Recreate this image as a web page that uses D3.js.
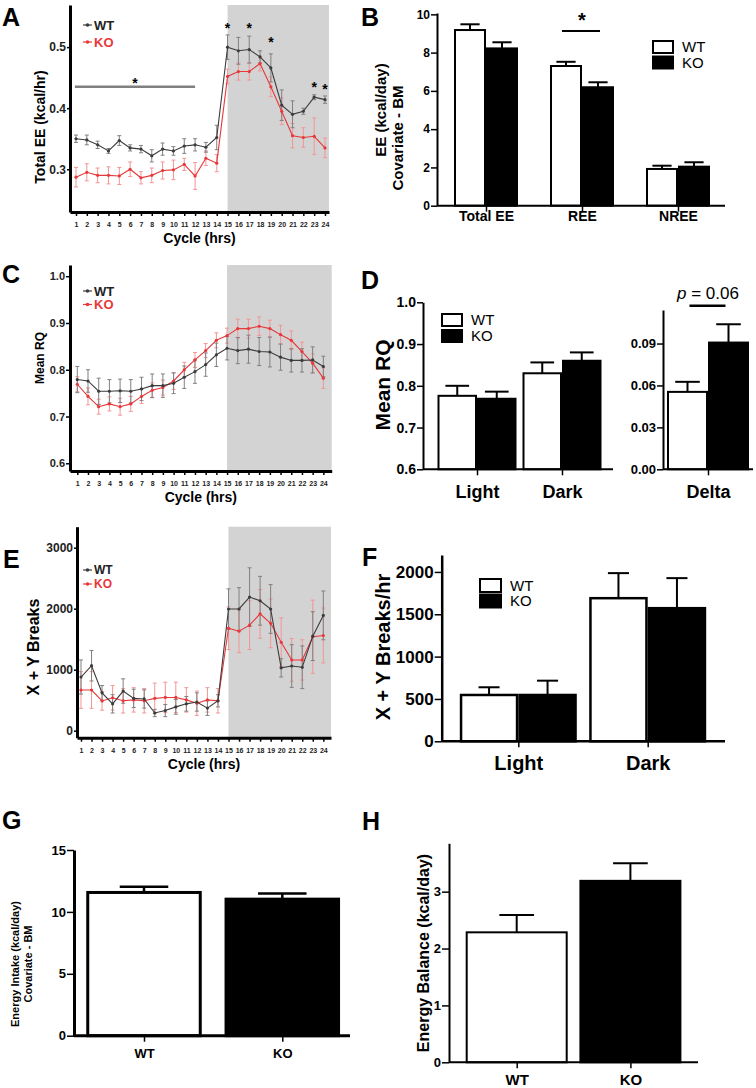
<!DOCTYPE html>
<html><head><meta charset="utf-8">
<script src="https://cdn.jsdelivr.net/npm/d3@7"></script>
<style>
body{margin:0;background:#fff}
svg{display:block}
text{font-family:"Liberation Sans",Arial,Helvetica,sans-serif}
</style>
</head><body>
<svg id="c" width="756" height="1088"></svg>
<script>
// ---------------- DATA ----------------
const hours = [1,2,3,4,5,6,7,8,9,10,11,12,13,14,15,16,17,18,19,20,21,22,23,24];
const darkOnset = 15;
const seriesNames = ["WT","KO"];

// A: Total EE (kcal/hr)
const eeWT    = [0.350,0.348,0.340,0.330,0.347,0.335,0.333,0.322,0.333,0.330,0.338,0.340,0.336,0.352,0.500,0.494,0.496,0.484,0.466,0.405,0.390,0.395,0.418,0.414];
const eeWTsem = [0.006,0.008,0.006,0.004,0.008,0.005,0.006,0.010,0.010,0.007,0.012,0.010,0.008,0.020,0.020,0.022,0.022,0.010,0.023,0.025,0.022,0.005,0.004,0.006];
const eeKO    = [0.287,0.295,0.290,0.290,0.289,0.300,0.286,0.290,0.298,0.299,0.308,0.289,0.318,0.310,0.452,0.460,0.460,0.473,0.435,0.395,0.355,0.352,0.354,0.335];
const eeKOsem = [0.016,0.014,0.012,0.014,0.014,0.012,0.010,0.012,0.014,0.016,0.010,0.022,0.012,0.014,0.012,0.014,0.014,0.012,0.016,0.022,0.020,0.016,0.030,0.016];
const eeStarHours  = [15,17,19,23,24];
const eeStarLevels = [0.536,0.536,0.513,0.440,0.437];
const eeLightSigHours = [0.9,12];
const eeLightSigLevel = 0.435;
const eeLightStarLevel = 0.4465;

// B: EE (kcal/day) covariate BM
const eeCats = ["Total EE","REE","NREE"];
const eeBarWT = [9.18,7.30,1.92];
const eeBarWTsem = [0.30,0.22,0.17];
const eeBarKO = [8.22,6.19,2.04];
const eeBarKOsem = [0.32,0.26,0.23];
const eeBarSigCat = "REE";
const eeBarSigLevel = 9.13;
const eeBarStarLevel = 9.97;

// C: Mean RQ
const rqWT    = [0.779,0.776,0.754,0.754,0.755,0.754,0.759,0.766,0.766,0.771,0.784,0.796,0.811,0.832,0.846,0.841,0.844,0.839,0.838,0.827,0.820,0.820,0.821,0.807];
const rqWTsem = [0.028,0.024,0.028,0.025,0.025,0.025,0.025,0.025,0.025,0.022,0.024,0.025,0.025,0.025,0.025,0.028,0.030,0.030,0.032,0.028,0.025,0.025,0.028,0.022];
const rqKO    = [0.769,0.743,0.721,0.727,0.721,0.727,0.743,0.756,0.762,0.776,0.800,0.821,0.841,0.863,0.873,0.888,0.888,0.893,0.888,0.875,0.863,0.839,0.814,0.782];
const rqKOsem = [0.016,0.018,0.016,0.015,0.018,0.016,0.015,0.016,0.016,0.018,0.016,0.016,0.015,0.016,0.016,0.020,0.020,0.020,0.018,0.020,0.020,0.020,0.020,0.022];

// D: Mean RQ bars + delta
const rqCats = ["Light","Dark"];
const rqBarWT = [0.776,0.830];
const rqBarWTsem = [0.024,0.026];
const rqBarKO = [0.769,0.860];
const rqBarKOsem = [0.017,0.020];
const deltaCats = ["Delta"];
const deltaWT = [0.0554];
const deltaWTsem = [0.0072];
const deltaKO = [0.0907];
const deltaKOsem = [0.0131];
const deltaSigLevel = 0.117;
const deltaLabelLevel = 0.1262;

// E: X + Y Breaks
const actWT    = [880,1065,620,440,650,530,520,290,330,390,440,470,370,490,1995,1995,2190,2130,1995,1030,1060,1040,1550,1890];
const actWTsem = [280,250,120,150,200,150,150,60,100,120,120,150,120,100,330,350,480,400,400,150,350,350,400,400];
const actKO    = [667,667,487,540,490,505,490,530,545,545,505,450,505,490,1680,1630,1730,1915,1760,1450,1160,1160,1540,1560];
const actKOsem = [300,300,150,200,200,200,200,250,250,250,200,200,200,200,350,350,400,400,400,400,350,330,600,450];

// F: X + Y Breaks/hr
const actCats = ["Light","Dark"];
const actBarWT = [547,1690];
const actBarWTsem = [91,296];
const actBarKO = [547,1572];
const actBarKOsem = [169,355];

// G: Energy intake
const intakeCats = ["WT","KO"];
const intakeVals = [11.57,11.03];
const intakeSem = [0.46,0.46];

// H: Energy balance
const balanceCats = ["WT","KO"];
const balanceVals = [2.285,3.19];
const balanceSem = [0.305,0.31];

// ---------------- DRAWING ----------------
const svg = d3.select('#c');
svg.append('rect').attr('width',756).attr('height',1088).attr('fill','#fff');

function txt(g,x,y,s,size,o={}){
  return g.append('text').attr('x',x).attr('y',y).attr('font-size',size)
    .attr('font-weight',o.weight||'bold').attr('text-anchor',o.anchor||'start')
    .attr('fill',o.fill||'#000').text(s);
}
function vtxt(g,cx,cy,s,size,weight){
  return g.append('text').attr('transform',`translate(${cx},${cy}) rotate(-90)`)
    .attr('text-anchor','middle').attr('dy','0.35em').attr('font-size',size)
    .attr('font-weight',weight||'bold').text(s);
}
function styleAxis(ax,o){
  ax.select('.domain').attr('stroke','#000').attr('stroke-width',o.w||2);
  ax.selectAll('.tick line').attr('stroke','#000').attr('stroke-width',o.tw||1.5);
  ax.selectAll('.tick text').attr('font-size',o.font).attr('font-weight','bold')
    .attr('fill','#000').attr('font-family','"Liberation Sans",Arial,sans-serif');
}

function linePanel(o){
  const g = svg.append('g');
  const x = d3.scaleLinear().domain(o.hourDomain).range(o.xRange);
  const y = d3.scaleLinear().domain(o.yDomain).range(o.yRange);
  g.append('rect').attr('x',x(darkOnset)).attr('y',o.yRange[1])
    .attr('width',o.xRange[1]-x(darkOnset)).attr('height',o.yRange[0]-o.yRange[1])
    .attr('fill','#d3d3d3');
  const series = [
    {v:o.ko,e:o.koSem,line:'#e8383b',bar:'#f39595'},
    {v:o.wt,e:o.wtSem,line:'#3c3c3c',bar:'#808080'}
  ];
  series.forEach(s=>{
    const pts = hours.map((h,i)=>({h,v:s.v[i],e:s.e[i]}));
    const eg = g.append('g').attr('stroke',s.bar).attr('stroke-width',1);
    eg.selectAll('.ev').data(pts).join('line')
      .attr('x1',d=>x(d.h)).attr('x2',d=>x(d.h))
      .attr('y1',d=>y(d.v-d.e)).attr('y2',d=>y(d.v+d.e));
    eg.selectAll('.ct').data(pts).join('line')
      .attr('x1',d=>x(d.h)-2).attr('x2',d=>x(d.h)+2)
      .attr('y1',d=>y(d.v+d.e)).attr('y2',d=>y(d.v+d.e));
    eg.selectAll('.cb').data(pts).join('line')
      .attr('x1',d=>x(d.h)-2).attr('x2',d=>x(d.h)+2)
      .attr('y1',d=>y(d.v-d.e)).attr('y2',d=>y(d.v-d.e));
  });
  series.forEach(s=>{
    const pts = hours.map((h,i)=>({h,v:s.v[i]}));
    g.append('path').datum(pts)
      .attr('d',d3.line().x(d=>x(d.h)).y(d=>y(d.v)))
      .attr('fill','none').attr('stroke',s.line).attr('stroke-width',1.1);
    g.selectAll(null).data(pts).join('circle')
      .attr('cx',d=>x(d.h)).attr('cy',d=>y(d.v)).attr('r',1.6).attr('fill',s.line);
  });
  // axes
  const ya = g.append('g').attr('transform',`translate(${o.xRange[0]},0)`)
    .call(d3.axisLeft(y).tickValues(o.yTicks).tickFormat(o.fmt).tickSize(o.ytick).tickSizeOuter(0).tickPadding(1));
  styleAxis(ya,{w:3,font:o.yFont,tw:1.5});
  ya.selectAll('.tick text').attr('fill','#222');
  const xa = g.append('g').attr('transform',`translate(0,${o.yRange[0]})`)
    .call(d3.axisBottom(x).tickValues(hours).tickFormat(d3.format('d')).tickSize(4).tickSizeOuter(0).tickPadding(6.5));
  styleAxis(xa,{w:3,font:7,tw:1.5});
  xa.selectAll('.tick text').attr('fill','#222');
  txt(g,(o.xRange[0]+o.xRange[1])/2,o.yRange[0]+31,'Cycle (hrs)',14,{anchor:'middle'});
  vtxt(g,o.ylabX,o.ylabY,o.ylabel,o.ylabSize);
  // legend
  [['WT','#3c3c3c',0],['KO','#e8383b',1]].forEach(([n,c,i])=>{
    const ly = o.legY[i];
    g.append('line').attr('x1',o.legX).attr('x2',o.legX+9).attr('y1',ly).attr('y2',ly).attr('stroke',c).attr('stroke-width',1.2);
    g.append('circle').attr('cx',o.legX+4.5).attr('cy',ly).attr('r',1.8).attr('fill',c);
    txt(g,o.legX+11,ly,n,o.legFont||13,{fill:n==='WT'?'#222':'#e8383b'}).attr('dy','0.36em');
  });
  return {g,x,y};
}

function barPanel(o){
  const g = svg.append('g');
  const x = d3.scalePoint().domain(o.cats).range(o.centers);
  const y = d3.scaleLinear().domain(o.yDomain).range(o.yRange);
  const bars = [];
  o.series.forEach(s=>{
    o.cats.forEach((c,i)=>{
      bars.push({cat:c,name:s.name,v:s.vals[i],e:s.sems[i],fill:s.fill?s.fill:(o.fills[i])});
    });
  });
  const sub = o.series.length>1
    ? d3.scaleBand().domain(o.series.map(s=>s.name)).range([-o.barW,o.barW])
    : d3.scaleBand().domain([o.series[0].name]).range([-o.barW/2,o.barW/2]);
  const bx = d=>x(d.cat)+sub(d.name);
  const bw = sub.bandwidth();
  // error bars
  g.selectAll('.e').data(bars).join('line')
    .attr('x1',d=>bx(d)+bw/2).attr('x2',d=>bx(d)+bw/2)
    .attr('y1',d=>y(d.v)).attr('y2',d=>y(d.v+d.e))
    .attr('stroke','#000').attr('stroke-width',o.ew||2);
  g.selectAll('.cap').data(bars).join('line')
    .attr('x1',d=>bx(d)+bw/2-bw*o.capFrac/2).attr('x2',d=>bx(d)+bw/2+bw*o.capFrac/2)
    .attr('y1',d=>y(d.v+d.e)).attr('y2',d=>y(d.v+d.e))
    .attr('stroke','#000').attr('stroke-width',o.ew||2);
  g.selectAll('.b').data(bars).join('rect')
    .attr('x',d=>bx(d)+o.sw/2).attr('width',bw-o.sw)
    .attr('y',d=>y(d.v)).attr('height',d=>y(o.yDomain[0])-y(d.v))
    .attr('fill',d=>d.fill).attr('stroke','#000').attr('stroke-width',o.sw);
  // axes
  const ya = g.append('g').attr('transform',`translate(${o.axisX0},0)`)
    .call(d3.axisLeft(y).tickValues(o.yTicks).tickFormat(o.fmt).tickSize(o.ytick).tickSizeOuter(0).tickPadding(1));
  styleAxis(ya,{w:o.aw,font:o.yFont,tw:1.5});
  const xa = g.append('g').attr('transform',`translate(0,${o.yRange[0]})`)
    .call(d3.axisBottom(x).tickSize(6).tickSizeOuter(0).tickPadding(o.catPad));
  styleAxis(xa,{w:0,font:o.catFont,tw:1.5});
  xa.select('.domain').remove();
  g.append('line').attr('x1',o.axisX0).attr('x2',o.axisX1)
    .attr('y1',o.yRange[0]).attr('y2',o.yRange[0]).attr('stroke','#000').attr('stroke-width',o.aw);
  return {g,x,y,sub,bw};
}

function legendBoxes(g,x0,ys,size,w,h){
  [['WT','#fff'],['KO','#000']].forEach(([n,f],i)=>{
    g.append('rect').attr('x',x0+1).attr('y',ys[i]-h/2).attr('width',w).attr('height',h)
      .attr('fill',f).attr('stroke','#000').attr('stroke-width',2);
    txt(g,x0+w+10,ys[i],n,size,{weight:'normal'}).attr('dy','0.36em');
  });
}
function star(g,x,yc,size){
  txt(g,x,yc+size*0.58,'*',size,{anchor:'middle'});
}

// ---------- Panel A ----------
const A = linePanel({hourDomain:[0.446,24.37],xRange:[70,329],yDomain:[0.230,0.569],yRange:[212,5],
  yTicks:[0.3,0.4,0.5],fmt:d3.format('.1f'),ytick:3,yFont:12,
  wt:eeWT,wtSem:eeWTsem,ko:eeKO,koSem:eeKOsem,
  ylabel:'Total EE (kcal/hr)',ylabX:40,ylabY:127,ylabSize:14,legX:83,legY:[25,42]});
A.g.append('line').attr('x1',A.x(eeLightSigHours[0])).attr('x2',A.x(eeLightSigHours[1]))
  .attr('y1',A.y(eeLightSigLevel)).attr('y2',A.y(eeLightSigLevel)).attr('stroke','#808080').attr('stroke-width',2.5);
star(A.g,A.x((eeLightSigHours[0]+eeLightSigHours[1])/2),A.y(eeLightStarLevel),14);
eeStarHours.forEach((h,i)=>star(A.g,A.x(h),A.y(eeStarLevels[i]),14));

// ---------- Panel B ----------
const B = barPanel({cats:eeCats,centers:[486,678],barW:32,
  series:[{name:'WT',vals:eeBarWT,sems:eeBarWTsem,fill:'#fff'},{name:'KO',vals:eeBarKO,sems:eeBarKOsem,fill:'#000'}],
  yDomain:[0,10.07],yRange:[205.7,13],yTicks:[0,2,4,6,8,10],fmt:d3.format('d'),ytick:6,yFont:12,
  axisX0:437,axisX1:725,aw:2,sw:2,capFrac:0.6,catFont:14,catPad:-0.5});
{
  const cx = B.x(eeBarSigCat);
  B.g.append('line').attr('x1',cx+B.sub('WT')+B.bw/2-4).attr('x2',cx+B.sub('KO')+B.bw/2+2)
    .attr('y1',B.y(eeBarSigLevel)).attr('y2',B.y(eeBarSigLevel)).attr('stroke','#000').attr('stroke-width',2);
  star(B.g,cx,B.y(eeBarStarLevel),20);
  legendBoxes(B.g,652,[47,62.5],15,20,12);
  vtxt(B.g,381,110,'EE (kcal/day)',15);
  vtxt(B.g,398,138,'Covariate - BM',15);
}

// ---------- Panel C ----------
linePanel({hourDomain:[0.318,24.78],xRange:[70,331.7],yDomain:[0.5835,1.024],yRange:[471,265],
  yTicks:[0.6,0.7,0.8,0.9,1.0],fmt:d3.format('.1f'),ytick:4,yFont:11,
  wt:rqWT,wtSem:rqWTsem,ko:rqKO,koSem:rqKOsem,
  ylabel:'Mean RQ',ylabX:40,ylabY:358,ylabSize:12,legX:83,legY:[291,304.5]});

// ---------- Panel D ----------
const D1 = barPanel({cats:rqCats,centers:[477,562],barW:39.5,
  series:[{name:'WT',vals:rqBarWT,sems:rqBarWTsem,fill:'#fff'},{name:'KO',vals:rqBarKO,sems:rqBarKOsem,fill:'#000'}],
  yDomain:[0.6,1.0],yRange:[469.3,302.3],yTicks:[0.6,0.7,0.8,0.9,1.0],fmt:d3.format('.1f'),ytick:6,yFont:14,
  axisX0:423,axisX1:613,aw:2,sw:2,capFrac:0.6,catFont:18,catPad:10});
legendBoxes(D1.g,441,[320,336],15,20,12);
vtxt(D1.g,383,385,'Mean RQ',21);
const D2 = barPanel({cats:deltaCats,centers:[708,708],barW:41,
  series:[{name:'WT',vals:deltaWT,sems:deltaWTsem,fill:'#fff'},{name:'KO',vals:deltaKO,sems:deltaKOsem,fill:'#000'}],
  yDomain:[0,0.114],yRange:[469.3,310],yTicks:[0,0.03,0.06,0.09],fmt:d3.format('.2f'),ytick:6,yFont:13,
  axisX0:663,axisX1:753,aw:2,sw:2,capFrac:0.6,catFont:18,catPad:10});
{
  const cx = D2.x('Delta');
  D2.g.append('line').attr('x1',cx+D2.sub('WT')+D2.bw/2+2).attr('x2',cx+D2.sub('KO')+D2.bw/2-3)
    .attr('y1',D2.y(deltaSigLevel)).attr('y2',D2.y(deltaSigLevel)).attr('stroke','#000').attr('stroke-width',2.5);
  const t = D2.g.append('text').attr('x',cx).attr('y',D2.y(deltaLabelLevel)).attr('dy','0.36em')
    .attr('text-anchor','middle').attr('font-size',17);
  t.append('tspan').attr('font-style','italic').text('p');
  t.append('tspan').text(' = 0.06');
}

// ---------- Panel E ----------
linePanel({hourDomain:[0.62,24.73],xRange:[77,331],yDomain:[-115,3344],yRange:[737.7,526.7],
  yTicks:[0,1000,2000,3000],fmt:d3.format('d'),ytick:3,yFont:12,
  wt:actWT,wtSem:actWTsem,ko:actKO,koSem:actKOsem,
  ylabel:'X + Y Breaks',ylabX:33,ylabY:647,ylabSize:16,legX:83,legY:[570,584],legFont:12});

// ---------- Panel F ----------
const F = barPanel({cats:actCats,centers:[518.3,647.7],barW:58.5,
  series:[{name:'WT',vals:actBarWT,sems:actBarWTsem,fill:'#fff'},{name:'KO',vals:actBarKO,sems:actBarKOsem,fill:'#000'}],
  yDomain:[0,2200],yRange:[741.3,555],yTicks:[0,500,1000,1500,2000],fmt:d3.format('d'),ytick:7,yFont:17,
  axisX0:441.7,axisX1:725,aw:2.5,sw:2.5,capFrac:0.36,catFont:20,catPad:8.5});
legendBoxes(F.g,479,[585.5,601],15,21,13);
vtxt(F.g,383,647,'X + Y Breaks/hr',20);

// ---------- Panel G ----------
const G = barPanel({cats:intakeCats,centers:[144,282.3],barW:115.5,
  series:[{name:'all',vals:intakeVals,sems:intakeSem}],fills:['#fff','#000'],
  yDomain:[0,15],yRange:[1035.7,850],yTicks:[0,5,10,15],fmt:d3.format('d'),ytick:7,yFont:13,
  axisX0:74,axisX1:350,aw:3,sw:3,capFrac:0.42,catFont:13,catPad:7.5,ew:2.5});
vtxt(G.g,15,964,'Energy Intake (kcal/day)',11);
vtxt(G.g,28,964,'Covariate - BM',11);

// ---------- Panel H ----------
const H = barPanel({cats:balanceCats,centers:[516.7,630.4],barW:102,
  series:[{name:'all',vals:balanceVals,sems:balanceSem}],fills:['#fff','#000'],
  yDomain:[0,3.85],yRange:[1062.3,843.3],yTicks:[0,1,2,3],fmt:d3.format('d'),ytick:7,yFont:13,
  axisX0:449,axisX1:698,aw:2,sw:2,capFrac:0.34,catFont:15,catPad:6.5});
vtxt(H.g,423,953,'Energy Balance (kcal/day)',16);

// ---------- Panel letters ----------
const L = svg.append('g');
[['A',2,26],['B',361,26],['C',2,283],['D',361,289],['E',3,568],['F',362,566],['G',2,829],['H',362,830]]
  .forEach(([s,x,y])=>txt(L,x,y,s,25));
</script>
</body></html>
